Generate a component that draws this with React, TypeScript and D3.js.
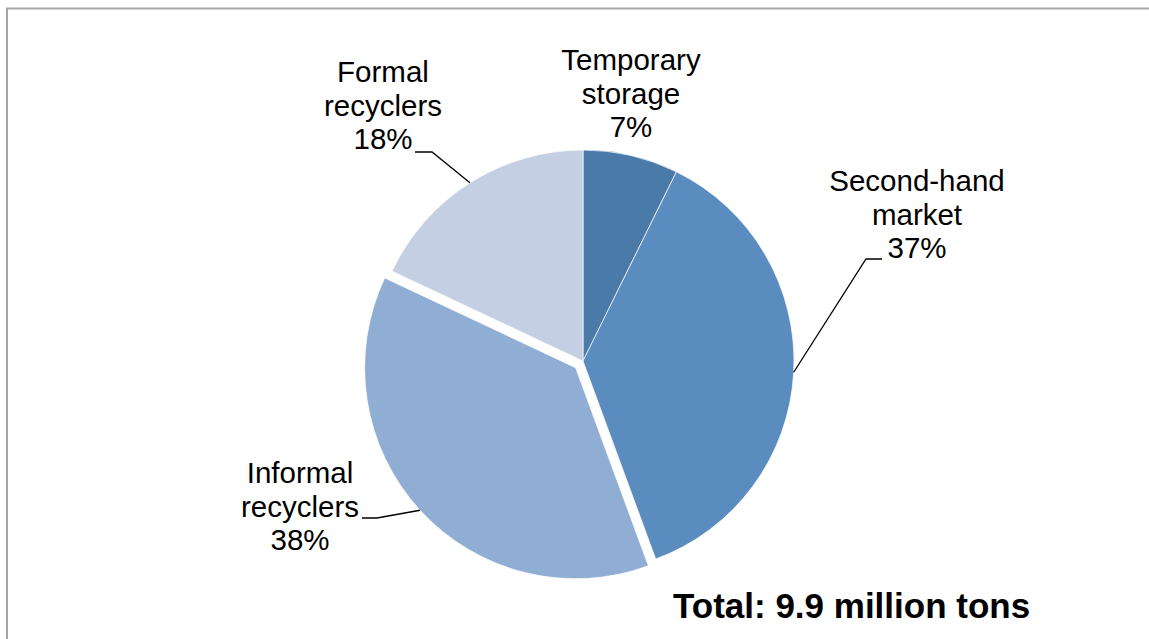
import React from "react";
import * as d3 from "d3";

const categories = ["Temporary storage", "Second-hand market", "Informal recyclers", "Formal recyclers"];
const labelLines = [["Temporary", "storage"], ["Second-hand", "market"], ["Informal", "recyclers"], ["Formal", "recyclers"]];
const values = [7.3, 37.1, 37.6, 18.0];
const colors = ["#4A7AA8", "#5B8CBF", "#90ADD3", "#C4CFE3"];
const exploded = [false, false, true, false];
const totalText = "Total: 9.9 million tons";

// label layout: center x, first baseline y, leader (text end x, y, elbow x) or null
const labelPos = [
  { x: 631, y: 70, leader: null },
  { x: 917, y: 191, leader: { x0: 882, y0: 259, x1: 866 } },
  { x: 300, y: 483, leader: { x0: 362, y0: 518, x1: 377 } },
  { x: 383, y: 82, leader: { x0: 415, y0: 152, x1: 432 } },
];

export default function App() {
  const W = 1149, H = 639;
  const cx = 583, cy = 361, r = 211, explode = 10;
  const total = d3.sum(values);
  const pie = d3.pie<number>().sort(null).startAngle(0).endAngle(2 * Math.PI).value((d) => d);
  const arcs = pie(values);
  const arc = d3.arc<d3.PieArcDatum<number>>().innerRadius(0).outerRadius(r);
  const font = "'Liberation Sans', Arial, Helvetica, sans-serif";
  const lh = 33.5;

  return (
    <div style={{ position: "absolute", left: 0, top: 0 }}>
      <svg width={W} height={H} style={{ display: "block", background: "#fff" }}>
        <rect x={7} y={8.5} width={W + 10} height={H + 10} fill="#fff" stroke="#A6A6A6" strokeWidth={2} />
        {arcs.map((a, i) => {
          const mid = (a.startAngle + a.endAngle) / 2;
          const off = exploded[i] ? explode : 0;
          const dx = Math.sin(mid) * off;
          const dy = -Math.cos(mid) * off;
          return (
            <path
              key={i}
              d={arc(a) || ""}
              transform={`translate(${cx + dx},${cy + dy})`}
              fill={colors[i]}
              stroke="#fff"
              strokeWidth={0.7}
            />
          );
        })}
        {arcs.map((a, i) => {
          const lp = labelPos[i];
          if (!lp.leader) return null;
          const mid = (a.startAngle + a.endAngle) / 2;
          const off = exploded[i] ? explode : 0;
          const ax = cx + Math.sin(mid) * (r + off);
          const ay = cy - Math.cos(mid) * (r + off);
          const { x0, y0, x1 } = lp.leader;
          return (
            <polyline
              key={"l" + i}
              points={`${x0},${y0} ${x1},${y0} ${ax},${ay}`}
              fill="none"
              stroke="#000"
              strokeWidth={1.3}
            />
          );
        })}
        {arcs.map((a, i) => {
          const lp = labelPos[i];
          const pct = Math.round((values[i] / total) * 100) + "%";
          const lines = [...labelLines[i], pct];
          return (
            <text key={"t" + i} x={lp.x} y={lp.y} textAnchor="middle" fontFamily={font} fontSize={29.5} fill="#000">
              {lines.map((l, j) => (
                <tspan key={j} x={lp.x} y={lp.y + j * lh}>
                  {l}
                </tspan>
              ))}
            </text>
          );
        })}
        <text x={673} y={618} fontFamily={font} fontSize={35} fontWeight="bold" fill="#000">
          {totalText}
        </text>
      </svg>
    </div>
  );
}
